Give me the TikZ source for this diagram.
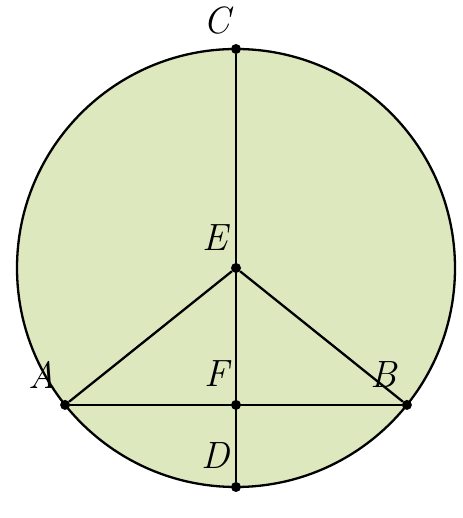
\documentclass[tikz,border=0pt]{standalone}
\usepackage{tikz}
\usetikzlibrary{calc}
\definecolor{xsage}{RGB}{221,232,190}

\begin{document}
\begin{tikzpicture}[x=1pt, y=1pt,
  pt/.style={circle, fill=black, inner sep=0pt, minimum size=10pt},
  lbl/.style={font=\fontsize{38}{40}\selectfont\itshape, inner sep=0pt},
  seg/.style={line width=2.3pt, color=black}
]
  \useasboundingbox (0,0) rectangle (462,518);

  % circle round E through A, B, C, D
  \coordinate (E0) at (236,250);
  \draw[seg, fill=xsage] (E0) circle[radius=219];

  \node[pt] (E) at (E0) {};
  \node[pt] (C) at ($(E0)+(90:219)$) {};
  \node[pt] (D) at ($(E0)+(270:219)$) {};
  \node[pt] (A) at ($(E0)+(218.7:219)$) {};
  \node[pt] (B) at ($(E0)+(-38.7:219)$) {};
  \node[pt] (F) at (E0 |- A) {};

  \foreach \from/\to in {C/D, A/B, E/A, E/B}
    \draw[seg] (\from) -- (\to);

  \node[lbl] (labC) at ([shift={(-19,28)}]C) {C};
  \node[lbl] (labE) at ([shift={(-21,30)}]E) {E};
  \node[lbl] (labA) at ([shift={(-23,30)}]A) {A};
  \node[lbl] (labF) at ([shift={(-19,31)}]F) {F};
  \node[lbl] (labB) at ([shift={(-23,30)}]B) {B};
  \node[lbl] (labD) at ([shift={(-20,31)}]D) {D};
\end{tikzpicture}
\end{document}
